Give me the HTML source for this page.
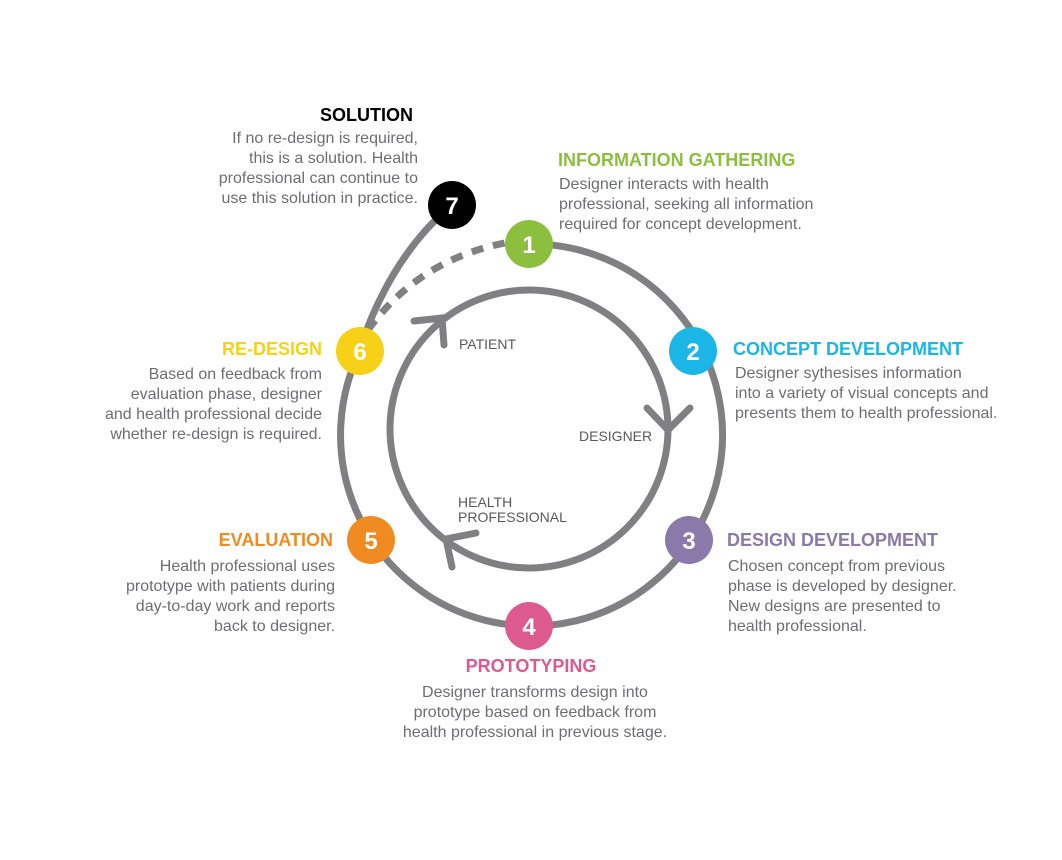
<!DOCTYPE html>
<html><head><meta charset="utf-8"><style>
html,body{margin:0;padding:0;background:#fff;}
svg{display:block;}
.b{font-family:"Liberation Sans",sans-serif;font-size:16px;fill:#6d6e71;}
.h{font-family:"Liberation Sans",sans-serif;font-size:18px;font-weight:bold;}
.n{font-family:"Liberation Sans",sans-serif;font-size:24px;font-weight:bold;fill:#fff;}
.l{font-family:"Liberation Sans",sans-serif;font-size:14px;fill:#58595b;}
</style></head><body>
<svg width="1062" height="860" viewBox="0 0 1062 860" xmlns="http://www.w3.org/2000/svg">
<g fill="none" stroke="#808083" stroke-width="7" stroke-linecap="round">
<path d="M529 244 A191 191 0 1 1 360 351"/>
<path d="M360 348 Q390 260 446 210"/>
<path d="M368 330 Q420 258 510 242" stroke-dasharray="12 10" stroke-linecap="butt"/>
<circle cx="529" cy="429" r="139"/>
<path d="M414 321 L442 318 L444 345"/>
<path d="M647 408 L668 430 L690 408"/>
<path d="M476 533 L446 539 L452 567"/>
</g>
<circle cx="529" cy="244" r="24" fill="#8dbf3f"/>
<circle cx="693" cy="351" r="24" fill="#1cb6e6"/>
<circle cx="689" cy="540" r="24" fill="#8b79a9"/>
<circle cx="529" cy="626" r="24" fill="#dd5a8f"/>
<circle cx="371" cy="540" r="24" fill="#f08b21"/>
<circle cx="360" cy="351" r="24" fill="#f7d117"/>
<circle cx="452" cy="205" r="24" fill="#000"/>
<g text-anchor="middle">
<text class="n" x="529" y="253">1</text>
<text class="n" x="693" y="360">2</text>
<text class="n" x="689" y="549">3</text>
<text class="n" x="529" y="635">4</text>
<text class="n" x="371" y="549">5</text>
<text class="n" x="360" y="360">6</text>
<text class="n" x="452" y="214">7</text>
</g>
<text class="l" x="459" y="349">PATIENT</text>
<text class="l" x="579" y="441">DESIGNER</text>
<text class="l" x="458" y="507">HEALTH</text>
<text class="l" x="458" y="522">PROFESSIONAL</text>

<g text-anchor="end">
<text class="h" x="413" y="121" fill="#000">SOLUTION</text>
<text class="b" x="418" y="143">If no re-design is required,</text>
<text class="b" x="418" y="163">this is a solution. Health</text>
<text class="b" x="418" y="183">professional can continue to</text>
<text class="b" x="418" y="203">use this solution in practice.</text>
<text class="h" x="322" y="355" fill="#f7d117">RE-DESIGN</text>
<text class="b" x="322" y="379">Based on feedback from</text>
<text class="b" x="322" y="399">evaluation phase, designer</text>
<text class="b" x="322" y="419">and health professional decide</text>
<text class="b" x="322" y="439">whether re-design is required.</text>
<text class="h" x="333" y="546" fill="#f08b21">EVALUATION</text>
<text class="b" x="335" y="571">Health professional uses</text>
<text class="b" x="335" y="591">prototype with patients during</text>
<text class="b" x="335" y="611">day-to-day work and reports</text>
<text class="b" x="335" y="631">back to designer.</text>
</g>
<text class="h" x="558" y="166" fill="#8dbf3f">INFORMATION GATHERING</text>
<text class="b" x="559" y="189">Designer interacts with health</text>
<text class="b" x="559" y="209">professional, seeking all information</text>
<text class="b" x="559" y="229">required for concept development.</text>
<text class="h" x="733" y="355" fill="#1cb6e6">CONCEPT DEVELOPMENT</text>
<text class="b" x="735" y="378">Designer sythesises information</text>
<text class="b" x="735" y="398">into a variety of visual concepts and</text>
<text class="b" x="735" y="418">presents them to health professional.</text>
<text class="h" x="727" y="546" fill="#8b79a9">DESIGN DEVELOPMENT</text>
<text class="b" x="728" y="571">Chosen concept from previous</text>
<text class="b" x="728" y="591">phase is developed by designer.</text>
<text class="b" x="728" y="611">New designs are presented to</text>
<text class="b" x="728" y="631">health professional.</text>
<g text-anchor="middle">
<text class="h" x="531" y="672" fill="#dd5a8f">PROTOTYPING</text>
<text class="b" x="535" y="697">Designer transforms design into</text>
<text class="b" x="535" y="717">prototype based on feedback from</text>
<text class="b" x="535" y="737">health professional in previous stage.</text>
</g>
</svg>
</body></html>
